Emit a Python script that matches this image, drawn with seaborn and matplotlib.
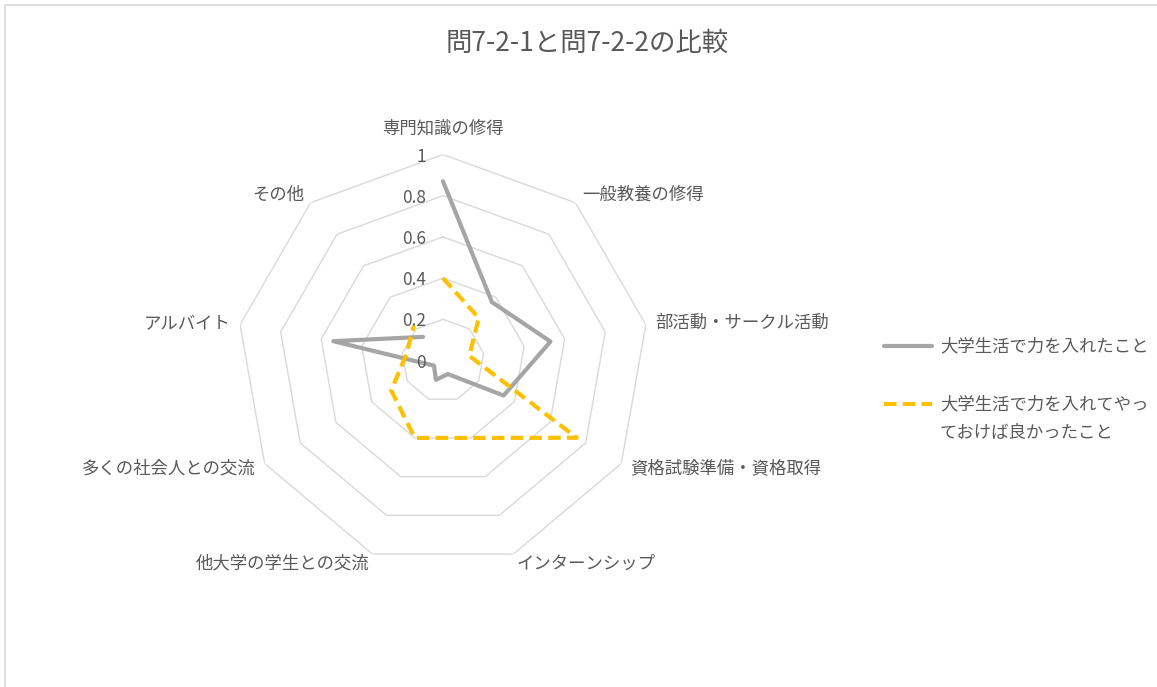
import numpy as np
import pandas as pd
import seaborn as sns
import matplotlib
matplotlib.use('Agg')
import matplotlib.pyplot as plt
from matplotlib.lines import Line2D
from matplotlib.patches import Rectangle

# data
categories = ['専門知識の修得', '一般教養の修得', '部活動・サークル活動', '資格試験準備・資格取得',
              'インターンシップ', '他大学の学生との交流', '多くの社会人との交流', 'アルバイト', 'その他']
effort = [0.87, 0.37, 0.53, 0.34, 0.07, 0.10, 0.05, 0.54, 0.15]
wish = [0.40, 0.27, 0.13, 0.75, 0.40, 0.40, 0.29, 0.18, 0.22]
series_names = ['大学生活で力を入れたこと', '大学生活で力を入れてやっ\nておけば良かったこと']
levels = [0.2, 0.4, 0.6, 0.8, 1.0]
level_labels = ['0', '0.2', '0.4', '0.6', '0.8', '1']

sns.set_theme(style='white')
plt.rcParams['font.family'] = ['Noto Sans CJK JP', 'DejaVu Sans']
txt = '#595959'
gray = '#A5A5A5'
gold = '#FFC000'
dash = (0, (3, 1.5))
fs = 12.5

n = len(categories)
angles = np.linspace(0, 2 * np.pi, n, endpoint=False)
closed = np.append(angles, angles[0])

W, H = 1157, 687
fig = plt.figure(figsize=(W / 100, H / 100), dpi=100)
# chart area border
fig.patches.append(Rectangle((5 / W, -0.1), 1.2, 1.1 - 5 / H, transform=fig.transFigure,
                             fill=False, edgecolor='#D9D9D9', lw=1.2))

ax = fig.add_axes([0.2048, 0.1754, 0.3561, 0.5997], projection='polar')
ax.set_theta_zero_location('N')
ax.set_theta_direction(-1)
ax.set_ylim(0, 1)
ax.set_axis_off()

# nonagon grid
for lvl in levels:
    ax.plot(closed, [lvl] * (n + 1), color='#D9D9D9', lw=1, zorder=1)

df = pd.concat([
    pd.DataFrame({'theta': closed, 'r': np.append(effort, effort[0]), 'series': series_names[0]}),
    pd.DataFrame({'theta': closed, 'r': np.append(wish, wish[0]), 'series': series_names[1]}),
])
sns.lineplot(data=df[df.series == series_names[0]], x='theta', y='r', sort=False,
             color=gray, lw=3, ax=ax, legend=False, zorder=3)
sns.lineplot(data=df[df.series == series_names[1]], x='theta', y='r', sort=False,
             color=gold, lw=3, ax=ax, legend=False, zorder=4, linestyle=dash)
ax.set_xlabel('')
ax.set_ylabel('')

# radial value labels
for v, lab in zip([0] + levels, level_labels):
    ax.annotate(lab, xy=(0, v), xytext=(-17, -2), textcoords='offset pixels',
                ha='right', va='center', fontsize=fs, color=txt)

# category labels
for a, cat in zip(angles, categories):
    s, c = np.sin(a), np.cos(a)
    if abs(s) < 0.1:
        ha = 'center'
    elif s > 0:
        ha = 'left'
    else:
        ha = 'right'
    if c > 0.99:
        off, va = (0, 17), 'bottom'
    else:
        off, va = (10 * s, 10 * c), 'center'
    ax.annotate(cat, xy=(a, 1.0), xytext=off, textcoords='offset pixels',
                ha=ha, va=va, fontsize=fs, color=txt, annotation_clip=False)

fig.text(587 / W, 1 - 43 / H, '問7-2-1と問7-2-2の比較', ha='center', va='center', fontsize=19, color=txt)

# legend drawn by hand so the dashed entry sits on the first text line
for (y, color, ls, name) in [(346, gray, '-', series_names[0]), (404, gold, dash, series_names[1])]:
    fig.add_artist(Line2D([884 / W, 932 / W], [1 - y / H, 1 - y / H], transform=fig.transFigure,
                          color=color, lw=3, linestyle=ls))
    fig.text(940 / W, 1 - (y - 9) / H, name, ha='left', va='top', fontsize=fs,
             color=txt, linespacing=1.75)

fig.savefig('out.png', dpi=100)
